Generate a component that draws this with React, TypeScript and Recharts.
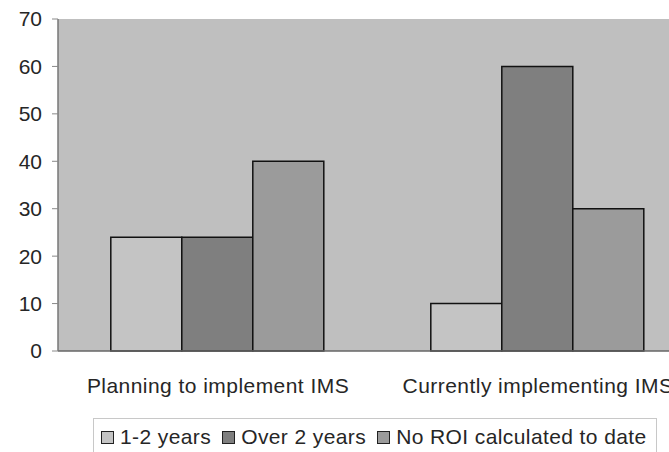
import React from 'react';
import { BarChart, Bar, XAxis, YAxis, CartesianGrid } from 'recharts';

const categories = ['Planning to implement IMS', 'Currently implementing IMS'];
const seriesNames = ['1-2 years', 'Over 2 years', 'No ROI calculated to date'];
const oneToTwo = [24, 10];
const overTwo = [24, 60];
const noRoi = [40, 30];
const yTicks = [0, 10, 20, 30, 40, 50, 60, 70];

const COLORS = ['#c4c4c4', '#7f7f7f', '#9b9b9b'];
const KEYS = ['a', 'b', 'c'];
const FONT = '"Liberation Sans", Arial, sans-serif';

const data = categories.map((name, i) => ({
  name,
  a: oneToTwo[i],
  b: overTwo[i],
  c: noRoi[i],
}));

const CategoryTick = (props: any) => {
  const { x, y, payload } = props;
  return (
    <text
      x={x}
      y={y + 40}
      textAnchor="middle"
      fontSize={21}
      letterSpacing={0.45}
      fontFamily={FONT}
      fill="#262626"
    >
      {payload.value}
    </text>
  );
};

const App: React.FC = () => {
  return (
    <div style={{ position: 'absolute', left: 0, top: 0, width: 669, height: 452, overflow: 'hidden', background: '#fff' }}>
      <BarChart
        width={740}
        height={452}
        data={data}
        margin={{ top: 19, right: 42, left: 0, bottom: 0 }}
        barCategoryGap="16.5%"
        barGap={0}
      >
        <CartesianGrid horizontal={false} vertical={false} fill="#bfbfbf" />
        <XAxis
          dataKey="name"
          height={101}
          tickLine={false}
          tickSize={0}
          axisLine={{ stroke: '#666', strokeWidth: 1.5 }}
          tick={<CategoryTick />}
          interval={0}
        />
        <YAxis
          width={58}
          domain={[0, 70]}
          ticks={yTicks}
          interval={0}
          tickSize={6}
          tickMargin={10}
          tickLine={{ stroke: '#888' }}
          axisLine={{ stroke: '#777', strokeWidth: 1.5 }}
          tick={{ fontSize: 21, fontFamily: FONT, fill: '#262626' }}
        />
        {KEYS.map((k, i) => (
          <Bar
            key={k}
            dataKey={k}
            name={seriesNames[i]}
            fill={COLORS[i]}
            stroke="#111"
            strokeWidth={1.5}
            isAnimationActive={false}
          />
        ))}
      </BarChart>
      <div
        style={{
          position: 'absolute',
          left: 93,
          top: 418,
          width: 564,
          height: 38,
          border: '1px solid #c8c8c8',
          boxSizing: 'border-box',
          display: 'flex',
          alignItems: 'center',
          justifyContent: 'flex-start',
          paddingLeft: 7,
          fontFamily: FONT,
          fontSize: 21,
          letterSpacing: 0.4,
          color: '#262626',
          whiteSpace: 'nowrap',
        }}
      >
        {seriesNames.map((s, i) => (
          <span key={s} style={{ display: 'inline-flex', alignItems: 'center', marginRight: i < seriesNames.length - 1 ? 11 : 0 }}>
            <span
              style={{
                display: 'inline-block',
                width: 11,
                height: 11,
                background: COLORS[i],
                border: '1.5px solid #222',
                marginRight: 6,
              }}
            />
            {s}
          </span>
        ))}
      </div>
    </div>
  );
};

export default App;
